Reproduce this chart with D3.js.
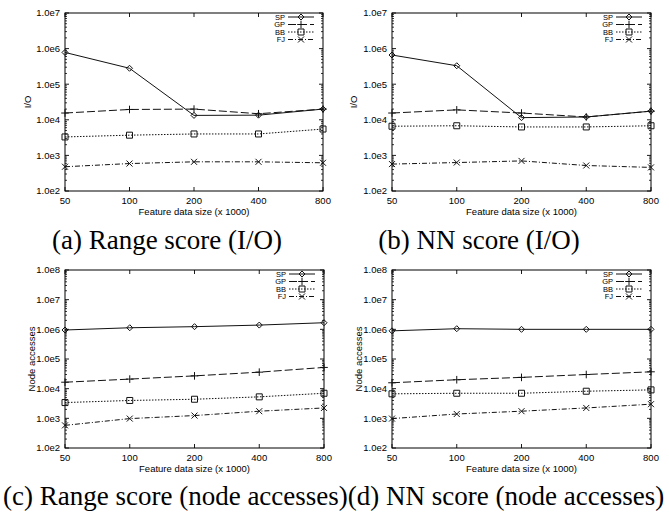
<!DOCTYPE html>
<html>
<head>
<meta charset="utf-8">
<script src="https://cdn.jsdelivr.net/npm/d3@7"></script>
<style>
  body { margin: 0; background: #fff; }
  svg { display: block; }
  text { fill: #000; }
  .tick-label { font-family: "Liberation Sans", Arial, sans-serif; font-size: 9.5px; }
  .axis-title { font-family: "Liberation Sans", Arial, sans-serif; font-size: 9.5px; }
  .legend-text { font-family: "Liberation Sans", Arial, sans-serif; font-size: 7.5px; }
  .caption { font-family: "Liberation Serif", "Times New Roman", serif; font-size: 27px; }
</style>
</head>
<body>
<div id="chart"></div>
<script>
// x categories (feature data size x 1000)
const sizes = [50, 100, 200, 400, 800];
const seriesNames = ["SP", "GP", "BB", "FJ"];

// (a) Range score (I/O)
const rangeIoSP = [7.8e5, 2.8e5, 1.33e4, 1.35e4, 2.0e4];
const rangeIoGP = [1.55e4, 1.95e4, 2.0e4, 1.48e4, 2.0e4];
const rangeIoBB = [3.3e3, 3.7e3, 4.0e3, 4.0e3, 5.5e3];
const rangeIoFJ = [4.8e2, 5.9e2, 6.6e2, 6.6e2, 6.2e2];

// (b) NN score (I/O)
const nnIoSP = [6.6e5, 3.3e5, 1.15e4, 1.2e4, 1.75e4];
const nnIoGP = [1.55e4, 1.9e4, 1.55e4, 1.2e4, 1.75e4];
const nnIoBB = [6.6e3, 6.8e3, 6.3e3, 6.3e3, 6.8e3];
const nnIoFJ = [5.7e2, 6.3e2, 7.0e2, 5.2e2, 4.6e2];

// (c) Range score (node accesses)
const rangeNodeSP = [9.5e5, 1.13e6, 1.23e6, 1.39e6, 1.67e6];
const rangeNodeGP = [1.65e4, 2.1e4, 2.7e4, 3.6e4, 5.2e4];
const rangeNodeBB = [3.4e3, 4.0e3, 4.4e3, 5.3e3, 7.0e3];
const rangeNodeFJ = [5.8e2, 9.8e2, 1.24e3, 1.74e3, 2.24e3];

// (d) NN score (node accesses)
const nnNodeSP = [8.9e5, 1.05e6, 1.0e6, 1.0e6, 1.0e6];
const nnNodeGP = [1.58e4, 2.0e4, 2.4e4, 3.0e4, 3.7e4];
const nnNodeBB = [6.7e3, 7.0e3, 7.0e3, 8.2e3, 9.1e3];
const nnNodeFJ = [9.8e2, 1.4e3, 1.74e3, 2.24e3, 3.0e3];

const ioTicks = [1e2, 1e3, 1e4, 1e5, 1e6, 1e7];
const nodeTicks = [1e2, 1e3, 1e4, 1e5, 1e6, 1e7, 1e8];

const xTitle = "Feature data size (x 1000)";

const WIDTH = 669;
const HEIGHT = 516;

// line style per series: dash pattern + marker type
const dashes = { SP: null, GP: "8,3", BB: "1.5,1.5", FJ: "5,2,1,2" };
const LINE_COLOR = "#111";

const svg = d3.select("#chart")
    .append("svg")
    .attr("width", WIDTH)
    .attr("height", HEIGHT);

function markerPath(type, cx, cy) {
    const p = d3.path();
    if (type === "SP") {          // diamond
        const r = 3;
        p.moveTo(cx, cy - r); p.lineTo(cx + r, cy); p.lineTo(cx, cy + r); p.lineTo(cx - r, cy); p.closePath();
    } else if (type === "GP") {   // plus
        const r = 3.8;
        p.moveTo(cx - r, cy); p.lineTo(cx + r, cy); p.moveTo(cx, cy - r); p.lineTo(cx, cy + r);
    } else if (type === "BB") {   // square
        const r = 3;
        p.rect(cx - r, cy - r, 2 * r, 2 * r);
    } else {                      // cross
        const r = 3;
        p.moveTo(cx - r, cy - r); p.lineTo(cx + r, cy + r); p.moveTo(cx - r, cy + r); p.lineTo(cx + r, cy - r);
    }
    return p.toString();
}

function drawPanel(cfg) {
    const g = svg.append("g");

    const x = d3.scaleLog().base(2).domain([sizes[0], sizes[sizes.length - 1]]).range([cfg.left, cfg.right]);
    const y = d3.scaleLog().domain([cfg.yTicks[0], cfg.yTicks[cfg.yTicks.length - 1]]).range([cfg.bottom, cfg.top]);

    // minor y ticks (2..9 each decade), left and right
    const minor = [];
    for (let i = 0; i < cfg.yTicks.length - 1; i++) {
        for (let m = 2; m <= 9; m++) minor.push(cfg.yTicks[i] * m);
    }
    g.append("g").selectAll("path")
        .data(minor)
        .enter().append("path")
        .attr("d", d => `M${cfg.left},${y(d)}h2M${cfg.right},${y(d)}h-2`)
        .attr("stroke", "#000").attr("stroke-width", 0.8);

    // major y ticks
    g.append("g").selectAll("path")
        .data(cfg.yTicks)
        .enter().append("path")
        .attr("d", d => `M${cfg.left},${y(d)}h4M${cfg.right},${y(d)}h-4`)
        .attr("stroke", "#000").attr("stroke-width", 0.9);

    g.append("g").selectAll("text")
        .data(cfg.yTicks)
        .enter().append("text")
        .classed("tick-label", true)
        .attr("x", cfg.left - 5)
        .attr("y", d => y(d))
        .attr("dy", "0.35em")
        .attr("text-anchor", "end")
        .text(d => "1.0e" + Math.round(Math.log10(d)));

    // x ticks bottom and top
    g.append("g").selectAll("path")
        .data(sizes)
        .enter().append("path")
        .attr("d", d => `M${x(d)},${cfg.bottom}v-4M${x(d)},${cfg.top}v4`)
        .attr("stroke", "#000").attr("stroke-width", 0.9);

    g.append("g").selectAll("text")
        .data(sizes)
        .enter().append("text")
        .classed("tick-label", true)
        .attr("x", d => x(d))
        .attr("y", cfg.bottom + 12.5)
        .attr("text-anchor", "middle")
        .text(d => d);

    // frame
    g.append("rect")
        .attr("x", cfg.left).attr("y", cfg.top)
        .attr("width", cfg.right - cfg.left).attr("height", cfg.bottom - cfg.top)
        .attr("fill", "none").attr("stroke", "#000").attr("stroke-width", 1);

    // axis titles
    g.append("text")
        .classed("axis-title", true)
        .attr("x", (cfg.left + cfg.right) / 2)
        .attr("y", cfg.bottom + 24)
        .attr("text-anchor", "middle")
        .text(xTitle);

    g.append("text")
        .classed("axis-title", true)
        .attr("transform", `translate(${cfg.yLabelX},${(cfg.top + cfg.bottom) / 2})rotate(-90)`)
        .attr("dy", "0.35em")
        .attr("text-anchor", "middle")
        .text(cfg.yLabel);

    // series
    const line = d3.line().x((d, i) => x(sizes[i])).y(d => y(d));
    seriesNames.forEach((name, k) => {
        const vals = cfg.series[k];
        g.append("path")
            .datum(vals)
            .attr("d", line)
            .attr("fill", "none")
            .attr("stroke", LINE_COLOR)
            .attr("stroke-width", 1)
            .attr("stroke-dasharray", dashes[name]);
        g.append("g").selectAll("path")
            .data(vals)
            .enter().append("path")
            .attr("d", (d, i) => markerPath(name, x(sizes[i]), y(d)))
            .attr("fill", "none")
            .attr("stroke", LINE_COLOR)
            .attr("stroke-width", 1);

        // legend entry
        const ly = cfg.top + 4 + k * 7.5;
        g.append("text")
            .classed("legend-text", true)
            .attr("x", cfg.right - 38)
            .attr("y", ly)
            .attr("dy", "0.35em")
            .attr("text-anchor", "end")
            .text(name);
        g.append("path")
            .attr("d", `M${cfg.right - 35},${ly}H${cfg.right - 9}`)
            .attr("stroke", LINE_COLOR)
            .attr("stroke-width", 1)
            .attr("stroke-dasharray", dashes[name]);
        g.append("path")
            .attr("d", markerPath(name, cfg.right - 22, ly))
            .attr("fill", "none")
            .attr("stroke", LINE_COLOR)
            .attr("stroke-width", 1);
    });
}

drawPanel({ left: 65, right: 323, top: 13, bottom: 191, yTicks: ioTicks, yLabel: "I/O", yLabelX: 28,
    series: [rangeIoSP, rangeIoGP, rangeIoBB, rangeIoFJ] });
drawPanel({ left: 392, right: 651, top: 13, bottom: 191, yTicks: ioTicks, yLabel: "I/O", yLabelX: 354,
    series: [nnIoSP, nnIoGP, nnIoBB, nnIoFJ] });
drawPanel({ left: 65, right: 324, top: 270, bottom: 448, yTicks: nodeTicks, yLabel: "Node accesses", yLabelX: 32,
    series: [rangeNodeSP, rangeNodeGP, rangeNodeBB, rangeNodeFJ] });
drawPanel({ left: 392, right: 651, top: 270, bottom: 448, yTicks: nodeTicks, yLabel: "Node accesses", yLabelX: 359,
    series: [nnNodeSP, nnNodeGP, nnNodeBB, nnNodeFJ] });

// sub-figure captions
svg.append("text").classed("caption", true)
    .attr("x", 167).attr("y", 249).attr("text-anchor", "middle")
    .text("(a) Range score (I/O)");
svg.append("text").classed("caption", true)
    .attr("x", 479).attr("y", 249).attr("text-anchor", "middle")
    .text("(b) NN score (I/O)");
svg.append("text").classed("caption", true)
    .attr("x", 3).attr("y", 505).attr("text-anchor", "start")
    .text("(c) Range score (node accesses)(d) NN score (node accesses)");
</script>
</body>
</html>
